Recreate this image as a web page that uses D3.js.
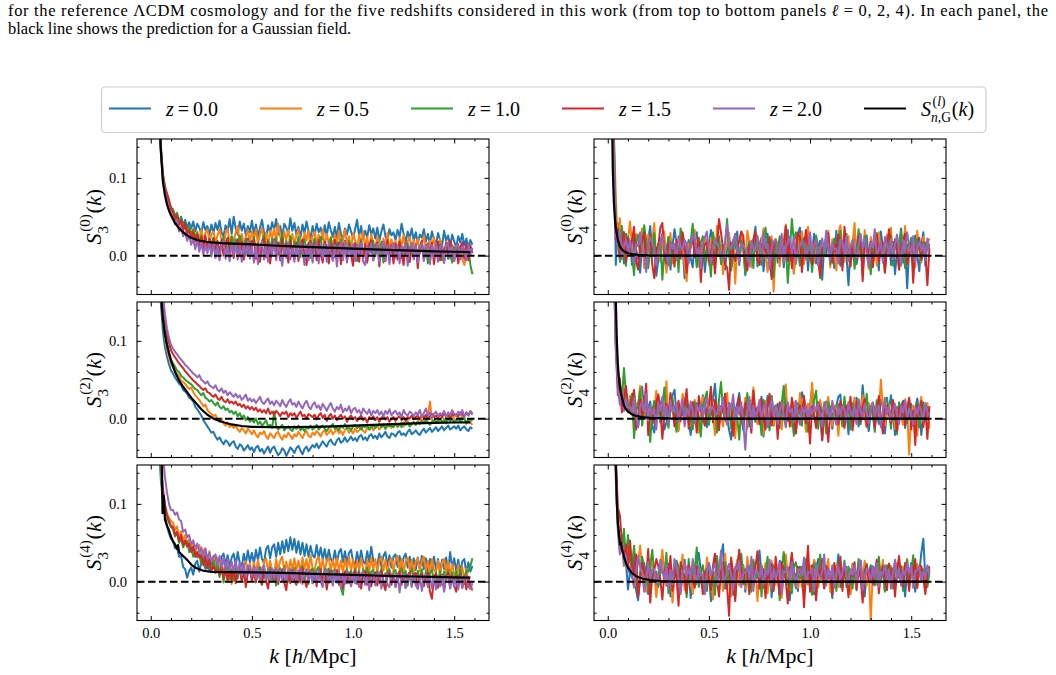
<!DOCTYPE html>
<html>
<head>
<meta charset="utf-8">
<script src="https://cdn.jsdelivr.net/npm/d3@7"></script>
<style>
  body { margin: 0; background: #fff; }
  svg { display: block; font-family: "Liberation Serif", "Times New Roman", serif; }
</style>
</head>
<body>
<svg id="chart" width="1056" height="675"></svg>
<script>
// k grid [h/Mpc] of the measured curves: 0.02 ... 1.59, step 0.01
const kDense = d3.range(2, 160).map(i => i / 100);

const redshifts = ["0.0", "0.5", "1.0", "1.5", "2.0"];
const colors = ["#1f77b4", "#ff7f0e", "#2ca02c", "#d62728", "#9467bd"];

// ---- S3, l = 0 (units of 1e-3) ----
const s3l0_z00 = [430, 320, 205, 138, 100, 84, 72, 66, 60,
  57, 48, 52, 44, 50, 39, 46, 36, 43, 35,
  44, 31, 41, 36, 28, 43, 33, 38, 27, 40,
  29, 42, 33, 45, 30, 25, 39, 31, 47, 28,
  50, 35, 27, 44, 32, 41, 26, 38, 30, 45,
  28, 40, 24, 36, 46, 30, 23, 39, 29, 43,
  33, 47, 27, 38, 24, 41, 36, 28, 48, 32,
  42, 27, 37, 23, 40, 29, 44, 31, 22, 38,
  26, 41, 30, 36, 21, 39, 25, 43, 33, 24,
  37, 23, 42, 28, 20, 35, 27, 40, 31, 22,
  34, 46, 25, 38, 21, 32, 24, 39, 27, 35,
  22, 36, 19, 31, 40, 25, 18, 34, 26, 30,
  20, 33, 24, 41, 28, 17, 31, 22, 35, 19,
  30, 16, 27, 23, 34, 18, 28, 15, 31, 21,
  14, 29, 20, 13, 32, 19, 26, 12, 27, 18,
  11, 25, 17, 28, 13, 22, 10, 20, 14];
const s3l0_z05 = [425, 315, 200, 142, 104, 86, 74, 64, 58,
  53, 46, 49, 38, 42, 33, 39, 30, 36, 28,
  35, 24, 31, 21, 33, 19, 29, 34, 18, 27,
  31, 17, 26, 34, 20, 14, 29, 35, 16, 25,
  19, 30, 38, 15, 28, 13, 24, 33, 17, 31,
  21, 34, 14, 27, 36, 16, 29, 12, 32, 22,
  35, 18, 41, 24, 13, 31, 20, 33, 15, 28,
  14, 26, 34, 17, 12, 30, 19, 32, 13, 25,
  31, 15, 27, 18, 34, 11, 28, 16, 24, 10,
  27, 14, 32, 12, 22, 33, 15, 25, 9, 29,
  20, 8, 27, 15, 31, 10, 24, 6, 28, 13,
  9, 25, 16, 5, 22, 12, 29, 8, 21, 11,
  19, 4, 23, 13, 27, 6, 18, 24, 3, 20,
  10, 22, 2, 16, 26, 7, 1, 19, 12, 24,
  3, 15, 21, 6, -2, 18, 9, 0, 14, 8,
  2, 12, 7, -4, -12, 3, 11, 5, 10];
const s3l0_z10 = [415, 305, 195, 140, 106, 90, 78, 70, 62,
  60, 51, 55, 44, 48, 37, 43, 32, 37, 27,
  33, 22, 29, 17, 26, 13, 24, 10, 22, 14,
  23, 9, 19, 5, 16, 24, 8, 20, 11, 25,
  10, 21, 4, 26, 15, 6, 22, 2, 18, 12,
  24, 5, 16, -1, 19, 26, 8, 20, 3, 22,
  11, 23, 1, 17, 27, 6, 19, 9, 25, 2,
  18, 7, 24, -2, 15, 21, 4, 17, -3, 13,
  22, 3, 14, 24, 1, 18, -1, 12, 23, 6,
  -2, 17, 5, 21, -4, 14, 2, 19, 9, -1,
  16, -7, 11, 20, 0, 13, -3, 15, 4, 19,
  -1, 14, 3, 18, -9, 10, 16, -2, 12, -4,
  15, 2, 17, -3, 11, 0, 16, -8, 10, 1,
  14, -5, 9, 18, -1, 12, -10, 6, 15, -3,
  10, -2, 15, -6, 8, 13, -4, 7, -9, 11,
  -1, 12, -3, 9, 4, -5, 10, -12, -24];
const s3l0_z15 = [420, 310, 198, 136, 102, 88, 80, 72, 60,
  57, 46, 52, 40, 45, 31, 42, 27, 33, 22,
  30, 18, 27, 12, 24, 9, 26, 8, 21, 6,
  22, 3, 18, 1, 20, 0, 16, 23, 2, 17,
  -3, 15, 21, 0, 18, -5, 13, 22, -1, 19,
  20, -4, 14, -8, 16, 22, -2, 18, -10, 12,
  21, -1, 17, -6, 22, 0, 15, -9, 19, 3,
  -4, 17, -7, 14, 21, 0, -12, 13, 19, -5,
  16, -6, 20, 2, -9, 18, 11, -10, 15, -2,
  20, -5, 17, -11, 13, 19, -6, 15, 1, -13,
  16, 3, -8, 18, -4, 15, -9, 13, 20, -6,
  12, 17, -14, 10, 16, -7, 20, -3, 14, -10,
  15, -5, 18, 2, -12, 17, 8, -8, 16, -2,
  14, -16, 11, 19, -6, 12, 16, -7, 17, -11,
  10, 18, -6, 14, -9, 16, 1, 19, 6, -7,
  14, -10, 11, 17, -4, 15, -6, 13, 3];
const s3l0_z20 = [410, 300, 192, 132, 98, 82, 70, 60, 54,
  48, 40, 45, 31, 37, 25, 30, 19, 26, 14,
  22, 8, 20, 5, 17, 1, 14, 3, 18, -1,
  16, -3, 12, -6, 15, 19, -4, 11, -7, 16,
  2, 17, -5, 13, -8, 15, 0, 19, -4, 12,
  -9, 14, -11, 10, 18, -5, 13, -8, 16, 1,
  19, -6, 12, 4, -13, 15, -3, 17, -5, 11,
  -8, 13, -2, 17, 5, -12, 14, -6, 16, -9,
  10, 17, -10, 13, -3, 15, -8, 18, 2, -7,
  14, -14, 11, 16, -6, 18, -9, 12, 0, 15,
  -7, 14, 3, 17, -8, -12, 13, 1, 16, -6,
  11, 15, -9, 12, 18, -6, 14, -11, 10, 16,
  -3, 13, -10, 12, 4, 16, -13, 10, 17, -5,
  14, -9, 12, 16, -7, 11, 15, -11, 13, -2,
  16, -8, 11, 14, -9, 13, 17, -4, 12, -7,
  13, 15, -5, 12, 9, -6, 14, 2, 10];

// ---- S3, l = 2 ----
const s3l2_z00 = [400, 290, 205, 148, 112, 92, 80, 70, 62,
  58, 53, 49, 45, 43, 37, 35, 32, 27, 25,
  22, 15, 12, 8, 4, -2, -6, -10, -14, -18,
  -17, -23, -27, -24, -29, -33, -28, -30, -35, -31,
  -29, -36, -39, -33, -35, -41, -38, -34, -40, -37,
  -43, -37, -35, -42, -39, -45, -40, -36, -44, -38,
  -36, -42, -47, -44, -38, -41, -48, -43, -37, -40,
  -44, -38, -35, -41, -46, -39, -36, -42, -38, -34,
  -37, -32, -38, -34, -29, -33, -36, -30, -27, -32,
  -34, -28, -25, -31, -29, -24, -30, -27, -23, -28,
  -25, -29, -23, -21, -27, -24, -28, -22, -20, -25,
  -22, -26, -19, -24, -21, -17, -23, -25, -19, -20,
  -23, -18, -16, -21, -19, -22, -17, -14, -20, -18,
  -15, -19, -21, -16, -13, -18, -15, -12, -17, -14,
  -11, -16, -13, -10, -15, -12, -9, -14, -12, -10,
  -13, -9, -15, -12, -10, -14, -16, -11, -13];
const s3l2_z05 = [410, 300, 220, 160, 128, 106, 90, 79, 70,
  66, 61, 58, 54, 49, 47, 45, 41, 38, 40,
  34, 30, 27, 24, 20, 16, 18, 11, 8, 6,
  3, 5, -1, -4, 0, -6, -9, -5, -11, -8,
  -12, -9, -14, -17, -12, -15, -19, -13, -16, -20,
  -15, -21, -24, -18, -20, -16, -23, -26, -19, -22,
  -25, -19, -17, -23, -27, -21, -24, -18, -22, -26,
  -20, -23, -17, -21, -25, -19, -16, -22, -24, -18,
  -21, -16, -19, -23, -17, -15, -21, -18, -14, -20,
  -17, -13, -19, -16, -21, -14, -12, -18, -15, -19,
  -13, -17, -15, -11, -16, -18, -12, -14, -10, -15,
  -12, -9, -14, -11, -7, -13, -10, -8, -12, -9,
  -6, -11, -8, -5, -10, -7, -3, -9, -6, -4,
  -8, -3, -6, -1, -5, -2, 4, 22, -1, -4,
  0, -5, -2, 3, -1, -6, 2, -3, 5, 0,
  -4, 2, -3, 6, -1, -7, -2, -5, -8];
const s3l2_z10 = [405, 310, 230, 170, 138, 115, 98, 86, 76,
  71, 67, 62, 60, 55, 53, 50, 48, 46, 44,
  41, 38, 37, 33, 30, 33, 27, 25, 22, 24,
  20, 17, 21, 15, 13, 16, 11, 13, 8, 10,
  6, 9, 3, 7, 1, 4, -2, 2, -4, -1,
  -5, 0, -7, -4, -9, -6, -2, -10, -8, -12,
  9, -9, -14, -11, -8, -15, -12, -10, -14, -16,
  -10, -13, -9, -15, -12, -16, -11, -13, -9, -14,
  -12, -8, -14, -11, -9, -13, -16, -12, -10, -7,
  -13, -11, -15, -9, -12, -7, -13, -11, -15, -10,
  -8, -12, -10, -14, -9, -11, -8, -14, -11, -9,
  -12, -9, -7, -11, -8, -13, -7, -10, -9, -11,
  -6, -10, -7, -11, -5, -8, -6, -10, -7, -5,
  -8, -4, -7, -3, -6, -2, -5, -8, -4, -2,
  -5, -3, -1, -4, -2, -6, 0, -3, -1, -5,
  -2, 0, -4, -1, 1, -5, -2, -1, -3];
const s3l2_z15 = [415, 320, 240, 185, 150, 128, 110, 98, 88,
  83, 79, 75, 71, 68, 65, 61, 58, 55, 52,
  49, 47, 44, 42, 39, 37, 39, 34, 33, 30,
  28, 31, 26, 24, 28, 23, 21, 25, 20, 22,
  19, 22, 17, 19, 15, 18, 13, 16, 12, 15,
  11, 14, 9, 12, 8, 11, 7, 13, 6, 9,
  5, 10, 7, 3, 8, 6, 9, 2, 7, 4,
  7, 1, 5, 9, 3, 5, 0, 6, 4, 2,
  5, -1, 4, 7, 1, 5, -3, 3, 6, 0,
  4, -2, 2, 5, 0, 3, -4, 1, 4, -1,
  2, -3, 1, 4, -2, 1, -5, 2, 0, 3,
  -2, 2, -4, 1, 3, -1, 2, -4, 0, 2,
  -3, 1, 3, -2, 2, -3, 2, 0, 4, -1,
  2, 4, -1, 4, 1, 5, -1, 3, 6, 2,
  4, 1, 6, 2, 7, 3, 5, 1, 6, 4,
  6, 3, 8, 5, 3, 8, 4, 9, 7];
const s3l2_z20 = [420, 330, 250, 195, 160, 135, 116, 104, 95,
  90, 86, 83, 79, 76, 73, 69, 67, 64, 61,
  58, 56, 53, 56, 50, 48, 45, 48, 43, 41,
  39, 43, 37, 35, 39, 33, 36, 30, 34, 31,
  28, 32, 27, 30, 24, 27, 31, 23, 26, 22,
  25, 20, 24, 28, 21, 19, 23, 26, 19, 22,
  17, 23, 20, 16, 24, 19, 15, 21, 25, 18,
  20, 15, 22, 17, 13, 19, 23, 16, 12, 18,
  21, 14, 17, 11, 19, 15, 10, 16, 20, 13,
  9, 15, 12, 18, 8, 13, 10, 16, 7, 12,
  14, 8, 11, 5, 13, 9, 6, 12, 4, 10,
  7, 11, 5, 9, 3, 10, 6, 12, 4, 8,
  10, 5, 8, 2, 11, 6, 4, 9, 7, 3,
  8, 5, 11, 2, 7, 13, 4, 8, 1, 6,
  9, 3, 7, 5, 10, 2, 8, 4, 11, 6,
  3, 9, 5, 11, 2, 7, 4, 10, 5];

// ---- S3, l = 4 ----
const s3l4_z00 = [380, 260, 180, 130, 105, 88, 72, 62, 55,
  52, 43, 44, 32, 33, 19, 16, 5, 14, 18,
  9, 23, 27, 13, 25, 30, 16, 28, 14, 29,
  18, 33, 20, 15, 32, 36, 21, 34, 19, 31,
  36, 21, 38, 24, 20, 36, 23, 40, 25, 37,
  23, 41, 27, 44, 29, 24, 42, 46, 30, 44,
  48, 32, 50, 35, 52, 37, 54, 39, 57, 41,
  55, 37, 52, 35, 50, 33, 48, 32, 46, 34,
  31, 47, 30, 44, 28, 42, 26, 41, 29, 25,
  40, 24, 38, 42, 25, 39, 23, 37, 41, 26,
  22, 38, 24, 40, 26, 23, 39, 25, 45, 27,
  24, 21, 36, 19, 33, 38, 20, 34, 18, 32,
  35, 19, 33, 17, 31, 36, 18, 32, 16, 30,
  15, 31, 18, 33, 16, 30, 14, 29, 17, 32,
  15, 29, 13, 28, 16, 31, 14, 38, 17, 30,
  14, 28, 12, 26, 29, 11, 25, 13, 20];
const s3l4_z05 = [400, 280, 195, 145, 118, 100, 88, 82, 78,
  76, 66, 71, 58, 65, 52, 60, 47, 55, 43,
  50, 38, 45, 47, 32, 40, 43, 27, 39, 25,
  33, 19, 31, 14, 27, 10, 23, 3, 17, -3,
  15, 21, 7, 24, 9, 22, 26, 10, 23, 8,
  25, 11, 28, 13, 9, 26, 30, 12, 27, 14,
  11, 29, 14, 27, 32, 13, 26, 10, 28, 15,
  30, 14, 27, 12, 31, 16, 29, 13, 34, 17,
  14, 28, 32, 15, 29, 12, 27, 31, 14, 28,
  15, 30, 13, 27, 11, 29, 16, 32, 14, 28,
  12, 27, 14, 30, 16, 10, 28, 13, 31, 15,
  29, 13, 27, 32, 14, 28, 11, 26, 30, 13,
  27, 33, 14, 29, 12, 26, 31, 15, 28, 11,
  26, 30, 13, 28, 32, 14, 27, 10, 29, 15,
  12, 27, 9, 24, 29, 11, 26, 7, 23, 10,
  6, 22, 4, 19, 2, 17, 0, -3, -12];
const s3l4_z10 = [395, 275, 190, 140, 112, 95, 84, 76, 70,
  68, 58, 63, 50, 56, 44, 50, 52, 38, 44,
  32, 39, 31, 35, 22, 36, 20, 32, 17, 25,
  27, 11, 23, 6, 20, -1, 16, 19, 3, 16,
  1, 17, 4, 20, 2, 16, -3, 14, 18, 3,
  17, 0, 15, 19, 3, 16, -1, 14, 18, 2,
  15, -5, 13, 17, 1, 19, 4, 0, 16, 2,
  18, 3, -1, 15, 20, 2, 16, -3, 14, 17,
  1, 15, 19, 3, -2, 16, 2, 17, 0, 14,
  15, -1, 13, -8, -17, 11, 16, -2, 14, 2,
  17, 0, 14, -3, 16, 2, 18, -1, 13, 15,
  0, 14, -2, 17, 1, -6, 13, 16, -1, 12,
  15, -1, 13, 17, 0, 14, -5, 12, 16, 1,
  -2, 14, 1, 16, -3, 13, -7, 11, 15, -1,
  12, -2, 14, -4, 13, 0, 15, -2, 12, -3,
  13, -1, 16, 1, -3, 14, 13, 20, 30];
const s3l4_z15 = [405, 285, 200, 150, 120, 98, 86, 78, 72,
  70, 60, 64, 52, 60, 47, 53, 45, 49, 38,
  45, 32, 38, 31, 34, 21, 33, 17, 29, 14,
  20, 13, 15, 9, 22, 4, 18, 0, 16, 2,
  18, -2, 14, 17, 0, 15, -7, 13, 16, 1,
  14, -1, 17, 2, -4, 15, 1, -9, 13, 16,
  0, 14, -3, 12, 16, -1, -11, 13, -2, 15,
  1, -4, 14, -1, 17, 2, -7, 10, 15, -2,
  13, -6, 11, 16, -2, 12, -10, 9, 14, -3,
  11, 15, -4, 10, -8, 13, -2, 12, -5, 10,
  14, -3, 11, -9, 9, 13, -4, 11, -6, 8,
  12, -5, 10, 14, -3, -11, 9, 12, -4, 10,
  -7, 9, 13, -4, 11, -8, 8, 12, -5, 9,
  11, -9, 7, 10, -6, 8, 12, -13, -22, 7,
  10, -8, 6, 9, -11, 7, 11, -7, 8, -5,
  -13, 6, 9, -8, 7, -10, 6, -9, -8];
const s3l4_z20 = [420, 330, 260, 200, 165, 135, 115, 100, 92,
  92, 86, 89, 80, 78, 64, 67, 57, 60, 48,
  53, 43, 49, 37, 44, 32, 42, 29, 37, 26,
  32, 35, 21, 33, 17, 31, 15, 29, 14, 26,
  12, 27, 10, 24, 8, 23, 6, 21, 19, 7,
  20, 4, 18, 2, 17, 21, 3, 16, 1, 17,
  4, 18, 0, 15, 2, 17, -2, 14, 16, 1,
  15, -1, 13, 17, -3, 12, 15, 0, 14, -2,
  13, -3, 15, 0, -7, 12, 16, -2, 11, -5,
  14, -1, 12, -8, 11, -3, 13, 9, -6, 10,
  -2, 12, -7, 10, 13, -4, 9, -11, 8, 11,
  -5, 9, 12, -9, 7, 11, -4, -7, 10, 8,
  -6, 9, -14, 7, 10, -8, 6, 9, -7, 8,
  -5, -9, 8, -12, 6, 9, -6, 7, -8, 6,
  -10, 7, -6, 8, -13, 5, 7, -9, 6, -7,
  6, -10, 7, -8, 5, 8, -7, -9, -2];

// ---- S4, l = 0 ----
const s4l0_z00 = [320, 150, -12, 42, 8, 35, -10, 28, 4,
  18, -12, 30, 8, -4, -22, 14, 26, -9, 21,
  38, 2, 11, -26, -5, 16, 28, 0, -17, 24,
  -18, 12, 34, 15, -8, 27, 10, -29, 6, 20,
  -3, -15, 19, 30, -7, 9, 16, -21, 8, 12,
  33, -11, 4, 20, 25, -6, 13, -18, 9, 24,
  -16, 5, 10, 31, -12, 22, 14, -25, 3, 19,
  -2, 17, 37, -14, 11, 23, -20, 6, 28, 2,
  -27, 9, 18, -9, 21, 24, -15, 12, 33, -6,
  14, -23, 8, 29, 36, -12, 5, 21, -19, 15,
  6, 28, -10, 11, 19, -31, 13, -1, 25, -8,
  3, -16, 32, 7, -13, 17, 22, 0, -38, 10,
  16, 30, -11, 4, 21, -22, 14, 26, -5, 8,
  -14, 23, 6, -19, 31, 11, -8, 15, 27, -12,
  18, -24, 7, 13, 35, -9, 12, -42, 9, 22,
  -10, 26, 1, -20, 14, 30, -13, 17, 9];
const s4l0_z05 = [340, 160, 75, 10, 48, -5, 30, 12, 20,
  44, 12, -12, 28, 20, 2, 35, -16, 0, 27,
  3, 18, 42, -9, 14, -8, 17, 31, -22, 9,
  29, -10, 8, 21, -9, 13, 22, -15, -33, 16,
  12, 26, 33, -6, -14, 11, 2, 24, 18, -12,
  23, 6, -19, 38, 1, 13, -24, 5, 15, 29,
  -10, 20, -36, 9, 19, 30, 7, -16, 32, 17,
  -15, 4, 12, 26, -8, 16, 35, 0, -21, 9,
  25, -46, 8, 18, -14, 22, 17, 40, -6, 5,
  10, -23, 15, 27, 3, 31, -11, 13, 37, -2,
  16, -9, 22, 10, -27, 13, 1, 20, 32, -15,
  21, 5, -19, 28, 39, 8, -8, 16, 25, -14,
  14, 42, -4, 11, 19, -10, 33, 5, -17, 24,
  7, 22, -13, 30, 2, 12, -21, 27, 8, 36,
  -7, 17, 11, -18, 28, 4, 38, -11, 15, 0,
  20, -15, 32, 6, -9, 24, 11, 16, 22];
const s4l0_z10 = [330, 155, 40, 22, -8, 38, 6, -13, 25,
  14, 2, -25, 17, 27, 5, 12, 39, 20, -16,
  10, 1, 29, -6, 15, 21, -31, 6, 8, 24,
  -12, 16, 3, 11, -21, 35, 22, 10, -9, 1,
  19, 41, 9, -15, 5, 17, 25, -7, 13, 6,
  -27, 30, 14, 1, 22, -11, 12, 15, 47, 0,
  -19, 6, 28, 11, -8, 19, 10, -23, 8, 17,
  3, -16, 29, 20, 7, -12, 15, 36, -3, 9,
  20, -28, 12, 4, 25, 17, -9, 15, -35, 5,
  47, 18, 30, 7, -13, 9, 23, 1, -6, 14,
  -21, 6, 26, 12, -29, 10, 0, 20, 17, -11,
  8, 22, 3, 15, 32, -14, 5, 28, -4, 11,
  18, -17, 9, 34, 2, -10, 25, 12, 6, -24,
  14, 3, 29, -7, 17, 8, -20, 22, 0, 26,
  -13, 12, 20, -4, 31, 6, -16, 15, 9, 23,
  -11, 5, 22, 14, -6, 3, 17, 8, 15];
const s4l0_z15 = [310, 140, 20, 35, -2, 16, 30, -8, 22,
  6, 20, 37, -7, -18, 11, 20, 29, -5, 12,
  27, -12, -29, 8, 13, 36, 42, 2, -10, 15,
  17, 6, -14, 20, 5, -4, 30, 14, -22, 3,
  11, 24, -2, 8, 23, -34, 5, 14, 18, -8,
  3, 17, -23, 12, 47, 29, 9, -12, -15, -44,
  17, 3, -7, 11, 19, 31, 25, -9, -19, 13,
  8, 21, 31, -5, -12, 14, 16, 5, 2, 24,
  -30, 11, 21, 6, -4, 17, 12, 38, -7, 20,
  -16, 8, 5, 29, 24, -21, 13, 33, 6, 1,
  -11, 18, 17, -5, -26, 10, 11, 23, 29, 3,
  -9, 15, 4, 27, 20, -19, 37, 11, 7, -14,
  15, 2, -4, 25, 24, -33, 13, 9, 2, 18,
  -15, 6, 27, -7, 12, 17, -22, 8, 34, 14,
  -6, 21, 8, -18, 11, 20, 28, -11, 3, 15,
  -35, 12, 6, 23, -5, 17, 2, -38, 9];
const s4l0_z20 = [300, 135, 28, 15, 32, -3, 12, 20, 6,
  19, 5, -9, 15, 12, 30, 9, 2, -21, 14,
  24, 16, 8, -12, 3, 17, 27, 10, 0, -13,
  18, 9, 15, -6, 25, 12, 6, 20, 15, -10,
  12, 28, 21, 3, 10, -16, 17, 23, 31, 5,
  -9, 12, 22, 15, 10, 3, -5, 18, 40, 13,
  8, 20, 27, 5, -8, 16, 13, 8, 2, -14,
  19, 9, 6, 24, 15, -6, 30, 10, 15, -18,
  10, 18, 21, 5, 0, 28, -9, 12, 17, 24,
  3, 25, -11, 8, 12, 20, 15, -5, 8, 30,
  -1, 14, 21, -13, 9, 22, 5, 32, 12, -6,
  17, 8, 9, -10, 21, 18, 2, 25, -7, 12,
  20, 6, -3, 15, 28, 9, 22, 3, -14, 17,
  11, 34, 0, 8, 18, -9, 24, 14, 2, 21,
  -5, 15, 27, 8, -13, 20, 5, 30, 12, 1,
  25, -8, 12, 18, 6, 15, -6, 22, 9];

// ---- S4, l = 2 ----
const s4l2_z00 = [380, 220, 110, 55, 28, 40, 14, 32, 18,
  11, 23, 34, 2, -11, 16, 41, 10, 4, 15,
  22, -9, -18, 12, 28, 19, 8, -14, -5, 13,
  18, 30, 37, 4, -14, 10, 5, 26, 24, -4,
  -21, 7, 13, 20, 1, -6, 30, 16, -11, 10,
  15, 23, 45, 7, -7, 12, 20, 29, 0, -15,
  -27, 6, 10, 19, 33, 3, -15, 16, 7, 23,
  23, 11, -4, 7, 16, 28, -23, 4, 29, 14,
  3, -9, 12, 19, -12, 9, 35, 17, -3, 10,
  19, 3, -18, 12, 6, 34, 26, -10, 13, 17,
  39, 4, -6, 14, 8, -28, 10, 22, 2, 16,
  -13, 7, 17, 28, 31, -8, 12, 10, -20, 20,
  15, 4, 27, -10, 3, 43, 13, 0, -16, 7,
  20, 12, 7, -7, 25, 16, -19, 9, 11, 30,
  3, -21, 15, 6, 16, 23, -12, 10, 2, 19,
  -9, 13, 26, 4, -21, 9, 16, 3, 12];
const s4l2_z05 = [390, 230, 100, 48, 35, 12, 38, 20, 8,
  29, 8, -7, 20, 13, 42, 24, 3, 25, 7,
  -12, 14, 6, 36, 19, -4, 12, 4, 48, -8,
  16, 21, 8, 3, -16, 10, 32, 20, 2, 17,
  -9, 13, 24, 7, -18, 12, 28, 19, 13, -5,
  37, 7, -21, 16, 16, 4, -10, 20, 33, 2,
  -4, 12, -25, 13, 19, 7, 1, 27, -13, 14,
  14, 40, 6, -7, 10, 16, -20, 23, 3, 12,
  29, -9, 17, 9, 6, -14, 25, 44, 2, 10,
  -10, 21, 14, -5, 33, 7, 10, -17, 19, 3,
  46, 7, 13, -8, 24, 11, 3, 13, 28, 4,
  -9, 17, 9, -22, 14, 17, -13, 6, 21, 2,
  12, 27, -6, 16, 7, 30, 1, -11, 20, 9,
  13, -5, 24, 4, 50, 14, -9, 12, 19, 2,
  21, -13, 9, 16, 3, -8, 25, 10, -46, 7,
  17, 4, -22, 13, 28, -4, 9, 20, -13];
const s4l2_z10 = [370, 210, 95, 60, 45, 22, 65, 30, 10,
  20, 32, -25, 10, 19, 37, -9, 13, 17, 1,
  -30, 9, 23, 6, 15, -5, 16, 40, 5, -12,
  12, 27, 2, -17, 19, 5, 21, -6, 31, 9,
  15, -14, 21, 6, 2, -23, 15, 25, 35, -8,
  10, 3, 19, -18, 25, 47, 8, -2, 13, 12,
  -13, 20, 8, 2, -27, 16, 11, 5, 33, -10,
  19, 13, -3, 12, 6, -21, 24, 15, 1, -15,
  29, 8, 17, 3, -6, 20, 42, -11, 15, 9,
  2, -22, 17, 20, 9, -9, 27, 5, -17, 12,
  3, 24, 36, -13, 15, 8, 6, -19, 21, 10,
  2, 13, -5, 19, 12, -10, 28, 5, 16, -14,
  20, 8, 1, 25, -7, 15, 9, 32, -3, 17,
  5, -17, 23, 12, 3, -9, 19, 27, 9, -13,
  15, 6, -20, 21, 10, 2, 16, -6, 24, 8,
  -5, 13, 19, -11, 9, 21, 2, 15, 6];
const s4l2_z15 = [360, 200, 90, 30, 52, 8, 25, 42, 16,
  8, 24, 37, -14, 5, 25, 2, 16, 45, -21,
  16, 9, -6, 21, 31, 10, -26, 6, 19, 3,
  33, 15, -10, 8, 23, -3, 13, 17, 38, -13,
  6, 21, 10, -18, 29, 13, 0, -9, 12, 17,
  41, -5, 24, 9, -15, 16, 9, 32, -6, 20,
  16, -22, 8, 12, 28, 2, -11, 20, 12, 5,
  -18, 36, 5, 15, -7, 25, 1, -14, 17, 32,
  -9, 10, 16, -26, 21, 12, 3, 15, 19, -10,
  27, 2, -19, 13, 17, 6, 29, -6, 9, -32,
  16, 5, -12, 21, 13, -27, 10, 3, -30, 8,
  19, 12, 2, -7, 23, 15, -11, 17, 8, 28,
  -15, 6, 21, 10, -4, 16, 25, -10, 5, 13,
  20, -12, 8, 29, 1, -19, 12, 17, 6, -6,
  24, 9, -16, 15, 3, 21, -8, 13, 27, -14,
  10, -34, 17, 5, 23, -11, 12, -26, 16];
const s4l2_z20 = [350, 190, 85, 40, 18, 35, 10, 26, 14,
  15, 8, 27, 3, -11, 16, 21, 9, 32, -3,
  17, 6, 12, -14, 20, 10, 28, 2, 16, -7,
  24, 8, 15, 19, -4, 12, 25, -10, 13, 5,
  22, 10, -6, 17, 9, 20, 2, 15, 27, 8,
  12, 16, 6, 6, 16, 10, 27, 1, -8, 20,
  12, 31, -3, 15, 5, 21, -6, -40, 8, 28,
  -12, 17, 2, 10, 24, -1, 15, 20, -11, 9,
  25, 4, 16, -7, 12, 19, 2, -10, 21, 8,
  13, -4, 23, 5, -8, 15, 6, 17, -3, 15,
  6, 17, 10, 19, 2, -10, 21, 8, 13, -4,
  23, 5, -8, 15, 6, 17, 12, -3, 20, 9,
  3, 16, -7, 24, 10, 1, 19, 8, -6, 13,
  21, 2, 12, 17, -11, 9, 27, 6, 15, -3,
  10, 19, 4, -7, 16, 8, 23, 1, 13, 5,
  -8, 15, 6, 17, 10, -3, 20, 9, 4];

// ---- S4, l = 4 ----
const s4l4_z00 = [400, 260, 140, 70, 45, 60, 30, 25, -10,
  13, 5, 29, -11, -24, 5, 15, 24, 8, -16,
  19, 3, 8, 12, -7, 16, 33, 10, -5, 23,
  -19, 7, 23, 12, 2, -12, 19, 28, 6, 11,
  -21, 5, 16, 24, 37, 13, -5, 9, 20, 12,
  -25, 8, 12, 4, 17, 32, 48, -9, 15, 5,
  15, -17, 11, 25, 4, 8, 21, -13, 16, 1,
  21, 7, 1, 15, 40, 10, -8, 5, 17, 24,
  -20, 13, 10, 2, 27, -4, 19, 16, 5, -24,
  33, 12, 9, -12, 19, 15, -3, 8, 24, 4,
  12, -16, 16, 29, 4, 9, -9, 20, 7, 1,
  -21, 15, 8, 35, -7, 13, 13, 19, 2, -15,
  23, 11, -11, 17, 27, 5, -19, 12, 9, 21,
  2, 15, 24, -4, 11, 16, -12, 8, 23, 5,
  17, -8, 12, 27, 1, 9, -19, 15, 7, 24,
  9, -13, 19, 12, 37, 55, 4, -4, 13];
const s4l4_z05 = [420, 280, 150, 80, 38, 55, 20, 42, 15,
  37, 13, -8, 9, 24, 46, 16, 5, -13, 12,
  29, 20, 12, -20, 5, 17, 41, 8, -3, 15,
  13, -27, 4, 21, 7, 12, 35, -11, 19, 16,
  1, -16, 11, 25, 9, 15, 19, -7, 31, 8,
  3, -23, 12, 15, 11, 23, -12, 36, 5, 4,
  -19, 16, 13, 28, -5, 8, 20, -9, 32, 12,
  1, 17, 17, -25, 9, 12, 5, 24, -15, 9,
  27, 7, -4, 16, 15, -21, 11, 35, 7, -11,
  19, 5, 3, -8, 16, -7, 24, 12, -4, 20,
  12, 28, 21, -8, 5, 4, 15, 11, 29, -13,
  9, 17, 20, -7, 24, 8, 4, 16, 13, -16,
  21, 5, -8, 19, 12, 1, 27, -5, 15, -50,
  11, 17, -4, 23, 8, 28, -12, 13, 4, 20,
  -9, 16, 24, 7, -3, 19, 12, 29, -7, 15,
  8, -5, 23, 12, 4, 17, -9, 16, 13];
const s4l4_z10 = [410, 270, 145, 75, 52, 40, 68, 28, 60,
  27, 19, 46, 8, -16, 12, 32, 17, 4, -8,
  20, 41, 9, 13, -5, 23, 11, 9, 37, -15,
  16, 7, 4, 27, 19, -11, 12, 8, -20, 29,
  1, 17, 15, 44, -7, 11, 21, 5, -12, 24,
  11, 13, -17, 33, 8, 3, 17, 25, -9, 15,
  25, 7, -21, 16, 15, 36, 5, -4, 11, 20,
  -13, 28, 12, 4, 23, -19, 16, 8, 32, 1,
  -11, 21, 13, 8, -24, 17, 38, 9, -3, 12,
  -15, 19, 25, 7, 4, 19, -8, 29, 11, 3,
  -17, 23, 15, 11, 35, 4, -5, 20, 15, 9,
  5, 16, -12, 24, 8, 1, 27, -7, 19, 12,
  -9, 17, 4, 29, 13, -16, 11, 23, 7, 15,
  20, -5, 12, 32, 3, 15, -13, 21, 8, 17,
  -8, 25, 9, 5, 20, -12, 16, 28, 4, 11,
  34, -5, 13, 20, 3, 15, 9, -7, 17];
const s4l4_z15 = [430, 290, 160, 95, 85, 50, 30, 48, 22,
  53, 20, 11, 35, -19, 4, 24, 12, 4, 42,
  -27, 8, 15, 29, 19, 3, -23, 13, 20, 9,
  33, -12, 17, 5, -31, 25, 15, 5, -15, 21,
  12, 3, -8, 19, 16, 7, -16, 11, 16, 4,
  -11, 20, 36, 1, -19, 13, 24, 9, -7, -44,
  31, 8, -25, 19, 41, 12, -3, 16, 12, -16,
  27, 7, 19, 39, -9, 20, 11, -21, 15, 3,
  23, -12, 32, 8, -17, 25, 16, 1, -28, 16,
  37, 4, -5, 19, 12, 16, -33, 11, 46, -13,
  21, 4, -24, 15, 9, 29, -8, 20, 5, 12,
  -16, 24, 8, 3, 32, -12, 17, 11, -20, 15,
  7, 25, -9, 19, 4, -27, 13, 21, 1, 16,
  -4, 12, 28, -15, 9, 20, 5, -11, 23, 8,
  17, -19, 13, 33, 3, -7, 24, 11, -12, 19,
  9, 29, -8, 15, 20, 4, -16, 12, 20];
const s4l4_z20 = [390, 250, 130, 65, 35, 48, 22, 35, 12,
  20, 8, -7, 13, 33, 19, 11, -13, 4, 25,
  5, 15, 16, -4, 9, 28, 12, 3, 21, -9,
  15, -3, 29, 19, 4, -16, 9, 24, 7, 17,
  4, 29, 12, -3, 19, 8, 9, -16, 13, 24,
  7, 17, 23, -5, 12, 40, 3, 1, 16, 23,
  8, -11, 19, 16, 27, -7, 11, 12, 20, 3,
  32, -12, 15, 13, 5, 21, -4, 15, 9, 28,
  -8, 17, 4, 11, 24, -15, 13, 12, 19, 1,
  25, 7, -9, 16, 15, 8, 31, -3, 12, 11,
  17, -12, 23, 8, 5, 13, 35, -5, 16, 4,
  21, -8, 12, 19, 3, 12, 24, 8, -4, 16,
  9, 20, 0, 15, 27, -11, 7, 17, 12, -1,
  19, 5, 24, -7, 13, 9, 21, 3, 16, -9,
  12, 28, 4, 17, -5, 15, 8, 23, 11, 20,
  -8, 12, 16, 19, 1, 13, 5, 21, 8];

// ---- Gaussian prediction S_{n,G}^{(l)}(k), own k samples ----
const kG3l0 = [0.02, 0.03, 0.04, 0.05, 0.06, 0.07, 0.08, 0.09, 0.10, 0.12, 0.14, 0.16, 0.18, 0.20, 0.22, 0.24, 0.26, 0.28, 0.30, 0.35, 0.40, 0.50, 0.60, 0.70, 0.80, 0.90, 1.00, 1.10, 1.20, 1.30, 1.40, 1.50, 1.58];
const g3l0 = [400, 300, 190, 135, 95, 78, 66, 58, 52, 42, 35, 30, 26, 23, 21, 19.5, 18.5, 17.5, 17, 16, 15.5, 14.5, 13, 12, 11, 10, 9, 8, 7, 6.5, 5.5, 5, 4.5];
const kG3l2 = [0.04, 0.045, 0.05, 0.06, 0.07, 0.08, 0.09, 0.10, 0.12, 0.14, 0.16, 0.18, 0.20, 0.22, 0.25, 0.28, 0.31, 0.35, 0.40, 0.45, 0.50, 0.60, 0.70, 0.80, 0.90, 1.00, 1.10, 1.20, 1.30, 1.40, 1.50, 1.58];
const g3l2 = [260, 195, 160, 128, 108, 95, 84, 75, 60, 49, 41, 34, 27, 21, 12, 5, 0, -4, -7.5, -9.5, -10.5, -11, -11, -10.5, -10, -9, -8, -7, -6, -5.5, -5, -4.8];
const kG3l4 = [0.045, 0.055, 0.058, 0.065, 0.07, 0.08, 0.09, 0.10, 0.11, 0.12, 0.13, 0.135, 0.14, 0.16, 0.18, 0.20, 0.22, 0.24, 0.26, 0.30, 0.40, 0.50, 0.60, 0.70, 0.80, 0.90, 1.00, 1.10, 1.20, 1.30, 1.40, 1.50, 1.58];
const g3l4 = [300, 160, 88, 110, 80, 72, 66, 58, 52, 48, 42, 47, 38, 33, 28, 22, 18, 16, 14, 12.5, 12.3, 12, 11.5, 11, 10, 9.3, 8.6, 7.9, 7.2, 6.6, 6, 5.5, 5.2];
const kG4l0 = [0.02, 0.025, 0.03, 0.035, 0.04, 0.05, 0.06, 0.07, 0.08, 0.10, 0.12, 0.15, 0.20, 0.30, 0.50, 1.00, 1.58];
const g4l0 = [200, 110, 70, 48, 35, 20, 12, 8, 5.5, 3, 2, 1, 0.4, 0.1, 0, 0, 0];
const kG4l2 = [0.03, 0.04, 0.045, 0.05, 0.055, 0.06, 0.07, 0.08, 0.09, 0.10, 0.12, 0.14, 0.17, 0.21, 0.30, 0.50, 1.00, 1.58];
const g4l2 = [300, 150, 100, 70, 52, 40, 27, 17, 12, 9, 5.5, 3.5, 2, 1, 0.3, 0, 0, 0];
const kG4l4 = [0.035, 0.04, 0.045, 0.05, 0.055, 0.06, 0.065, 0.07, 0.08, 0.09, 0.10, 0.12, 0.14, 0.17, 0.21, 0.26, 0.30, 0.50, 1.00, 1.58];
const g4l4 = [300, 150, 100, 75, 62, 48, 50, 42, 32, 24, 18, 11, 7, 4, 2, 0.8, 0.4, 0, 0, 0];

// Axis ticks
const xMajor = [0.0, 0.5, 1.0, 1.5];
const xMinor = [0.1, 0.2, 0.3, 0.4, 0.6, 0.7, 0.8, 0.9, 1.1, 1.2, 1.3, 1.4, 1.6];
const yMajor = [0.0, 0.1];
const yMinor = [-0.04, -0.02, 0.02, 0.04, 0.06, 0.08, 0.12, 0.14];

// Panel table built from the arrays above
const panels = [
  { row: 0, col: 0, n: "3", l: "0", series: [s3l0_z00, s3l0_z05, s3l0_z10, s3l0_z15, s3l0_z20], kG: kG3l0, g: g3l0 },
  { row: 0, col: 1, n: "4", l: "0", series: [s4l0_z00, s4l0_z05, s4l0_z10, s4l0_z15, s4l0_z20], kG: kG4l0, g: g4l0 },
  { row: 1, col: 0, n: "3", l: "2", series: [s3l2_z00, s3l2_z05, s3l2_z10, s3l2_z15, s3l2_z20], kG: kG3l2, g: g3l2 },
  { row: 1, col: 1, n: "4", l: "2", series: [s4l2_z00, s4l2_z05, s4l2_z10, s4l2_z15, s4l2_z20], kG: kG4l2, g: g4l2 },
  { row: 2, col: 0, n: "3", l: "4", series: [s3l4_z00, s3l4_z05, s3l4_z10, s3l4_z15, s3l4_z20], kG: kG3l4, g: g3l4 },
  { row: 2, col: 1, n: "4", l: "4", series: [s4l4_z00, s4l4_z05, s4l4_z10, s4l4_z15, s4l4_z20], kG: kG4l4, g: g4l4 }
];

const svg = d3.select("#chart");
const colX = [137, 594], colW = 352;
const rowY = [139, 302, 465], rowH = 155.5;

// Helper: text made of italic / upright runs
function runText(g, runs, x, y, size) {
  const t = g.append("text").attr("x", x).attr("y", y).attr("font-size", size).attr("fill", "#000");
  runs.forEach(([s, it]) => t.append("tspan").attr("font-style", it ? "italic" : "normal").text(s));
  return t;
}

// Helper: mathtext-like label with stacked sub/superscripts
function mathText(parent, tokens, size) {
  const g = parent.append("g");
  let x = 0;
  tokens.forEach(tok => {
    if (tok.runs) {
      const t = runText(g, tok.runs, x, 0, size);
      x += t.node().getComputedTextLength();
    } else {
      let w = 0;
      if (tok.sub) {
        const t = runText(g, tok.sub, x, size * 0.3, size * 0.68);
        w = Math.max(w, t.node().getComputedTextLength());
      }
      if (tok.sup) {
        const t = runText(g, tok.sup, x + size * 0.08, -size * 0.5, size * 0.68);
        w = Math.max(w, t.node().getComputedTextLength() + size * 0.08);
      }
      x += w + size * 0.04;
    }
  });
  return { g, width: x };
}

// Caption text from the page
const cap = svg.append("g").attr("font-size", 16.5);
cap.append("text").attr("x", 8).attr("y", 15.5)
  .attr("textLength", 1040).attr("lengthAdjust", "spacing")
  .call(t => {
    t.append("tspan").text("for the reference \u039BCDM cosmology and for the five redshifts considered in this work (from top to bottom panels ");
    t.append("tspan").attr("font-style", "italic").text("\u2113");
    t.append("tspan").text(" = 0, 2, 4). In each panel, the");
  });
cap.append("text").attr("x", 8).attr("y", 33.5).text("black line shows the prediction for a Gaussian field.");

panels.forEach(p => {
  const x0 = colX[p.col], y0 = rowY[p.row];
  const x = d3.scaleLinear().domain([-0.068, 1.672]).range([x0, x0 + colW]);
  const y = d3.scaleLinear().domain([-0.05, 0.15]).range([y0 + rowH, y0]);
  const g = svg.append("g");
  const clipId = `clip-${p.row}-${p.col}`;
  g.append("clipPath").attr("id", clipId)
    .append("rect").attr("x", x0).attr("y", y0).attr("width", colW).attr("height", rowH);

  const plot = g.append("g").attr("clip-path", `url(#${clipId})`);
  const line = d3.line().x(d => x(d[0])).y(d => y(d[1] / 1000));

  p.series.forEach((vals, i) => {
    if (vals.length !== kDense.length) console.warn("length mismatch", p.n, p.l, i, vals.length);
    const pts = kDense.map((k, j) => [k, vals[j]]).filter(d => d[1] !== undefined);
    plot.append("path").datum(pts)
      .attr("d", line)
      .attr("fill", "none")
      .attr("stroke", colors[i])
      .attr("stroke-width", 2)
      .attr("stroke-linejoin", "round");
  });

  // zero reference
  plot.append("line")
    .attr("x1", x0).attr("x2", x0 + colW)
    .attr("y1", y(0)).attr("y2", y(0))
    .attr("stroke", "#000").attr("stroke-width", 2)
    .attr("stroke-dasharray", "7.5,3.5");

  plot.append("path").datum(p.kG.map((k, j) => [k, p.g[j]]))
    .attr("d", line)
    .attr("fill", "none")
    .attr("stroke", "#000")
    .attr("stroke-width", 2.2)
    .attr("stroke-linejoin", "round");

  // ticks (inward on every side)
  const showX = p.row === 2, showY = p.col === 0;
  const fmt = d3.format(".1f");
  const axes = [
    [d3.axisBottom(x).tickValues(xMajor).tickSize(-4.5).tickPadding(7).tickFormat(showX ? fmt : ""), `translate(0,${y0 + rowH})`],
    [d3.axisBottom(x).tickValues(xMinor).tickSize(-2.5).tickFormat(""), `translate(0,${y0 + rowH})`],
    [d3.axisTop(x).tickValues(xMajor).tickSize(-4.5).tickFormat(""), `translate(0,${y0})`],
    [d3.axisTop(x).tickValues(xMinor).tickSize(-2.5).tickFormat(""), `translate(0,${y0})`],
    [d3.axisLeft(y).tickValues(yMajor).tickSize(-4.5).tickPadding(10).tickFormat(showY ? fmt : ""), `translate(${x0},0)`],
    [d3.axisLeft(y).tickValues(yMinor).tickSize(-2.5).tickFormat(""), `translate(${x0},0)`],
    [d3.axisRight(y).tickValues(yMajor).tickSize(-4.5).tickFormat(""), `translate(${x0 + colW},0)`],
    [d3.axisRight(y).tickValues(yMinor).tickSize(-2.5).tickFormat(""), `translate(${x0 + colW},0)`]
  ];
  axes.forEach(([ax, tr]) => {
    const a = g.append("g").attr("transform", tr).call(ax);
    a.select(".domain").remove();
    a.selectAll("line").attr("stroke", "#000").attr("stroke-width", 1);
    a.selectAll("text").attr("font-family", "Liberation Serif, Times New Roman, serif").attr("font-size", 14.5).attr("fill", "#000");
  });

  g.append("rect")
    .attr("x", x0).attr("y", y0).attr("width", colW).attr("height", rowH)
    .attr("fill", "none").attr("stroke", "#000").attr("stroke-width", 1.1);

  // y label S_n^{(l)}(k)
  const lab = mathText(g, [
    { runs: [["S", 1]] },
    { sub: [[p.n, 0]], sup: [[`(${p.l})`, 0]] },
    { runs: [["(", 0], ["k", 1], [")", 0]] }
  ], 22);
  const ylx = p.col === 0 ? 101 : 582;
  lab.g.attr("transform", `translate(${ylx},${y0 + rowH / 2}) rotate(-90) translate(${-lab.width / 2},0)`);

  if (showX) {
    const xl = mathText(g, [{ runs: [["k", 1], [" [", 0], ["h", 1], ["/Mpc]", 0]] }], 22);
    xl.g.attr("transform", `translate(${x0 + colW / 2 - xl.width / 2},663)`);
  }
});

// Legend
const leg = svg.append("g");
leg.append("rect")
  .attr("x", 101.5).attr("y", 87).attr("width", 884.5).attr("height", 45.5)
  .attr("rx", 4).attr("fill", "#fff").attr("stroke", "#cccccc").attr("stroke-width", 1.2);
const legX = d3.scaleLinear().domain([0, 5]).range([109, 864]);
const legItems = redshifts.map((z, i) => ({ color: colors[i], z })).concat([{ color: "#000", z: null }]);
legItems.forEach((d, i) => {
  const lx = legX(i);
  leg.append("line").attr("x1", lx).attr("x2", lx + 42).attr("y1", 108.5).attr("y2", 108.5)
    .attr("stroke", d.color).attr("stroke-width", 2);
  const item = d.z !== null
    ? mathText(leg, [{ runs: [["z", 1], ["\u2009=\u2009", 0], [d.z, 0]] }], 20)
    : mathText(leg, [
        { runs: [["S", 1]] },
        { sub: [["n", 1], [",G", 0]], sup: [["(", 0], ["l", 1], [")", 0]] },
        { runs: [["(", 0], ["k", 1], [")", 0]] }
      ], 20);
  item.g.attr("transform", `translate(${lx + 57},115.5)`);
});
</script>
</body>
</html>
